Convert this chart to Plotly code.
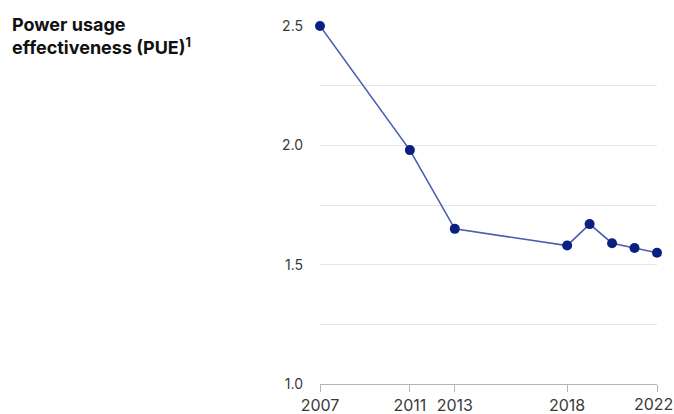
import plotly.graph_objects as go

# Power usage effectiveness by year
years = [2007, 2011, 2013, 2018, 2019, 2020, 2021, 2022]
pue = [2.50, 1.98, 1.65, 1.58, 1.67, 1.59, 1.57, 1.55]

x_tick_years = [2007, 2011, 2013, 2018, 2022]
x_tick_text = ["2007", "2011", "2013", "2018", "2022"]
y_tick_vals = [1.0, 1.5, 2.0, 2.5]
y_tick_text = ["1.0", "1.5", "2.0", "2.5"]

W, H = 674, 414
ML, MR, MT, MB = 320, 17, 26, 30
PW = W - ML - MR
PH = H - MT - MB

TITLE_FONT = "Inter, Liberation Sans, Arial, sans-serif"
TICK_FONT = "Inter, DejaVu Sans, sans-serif"
TICK_COLOR = "#3a3a3a"
AXIS_COLOR = "#b5b5b5"
GRID_COLOR = "#e6e6e6"

fig = go.Figure()
fig.add_trace(go.Scatter(
    x=years, y=pue,
    mode="lines+markers",
    line=dict(color="#4a5db0", width=1.6),
    marker=dict(color="#0a1f80", size=10),
    cliponaxis=False,
    hoverinfo="x+y",
))

fig.update_layout(
    width=W, height=H,
    margin=dict(l=ML, r=MR, t=MT, b=MB, pad=0),
    paper_bgcolor="white",
    plot_bgcolor="white",
    showlegend=False,
    font=dict(family=TICK_FONT, color=TICK_COLOR, size=13),
    xaxis=dict(
        range=[x_tick_years[0], x_tick_years[-1]],
        tickvals=x_tick_years,
        # the final year is written separately below, nudged left to stay on the canvas
        ticktext=x_tick_text[:-1] + [""],
        automargin=False,
        showgrid=False,
        zeroline=False,
        showline=True,
        linecolor=AXIS_COLOR,
        linewidth=1,
        ticks="outside",
        ticklen=7,
        tickcolor=AXIS_COLOR,
        tickwidth=1,
        tickfont=dict(family=TICK_FONT, size=16, color=TICK_COLOR),
        fixedrange=True,
    ),
    yaxis=dict(
        range=[1.0, 2.5],
        tickvals=y_tick_vals,
        ticktext=y_tick_text,
        automargin=False,
        showgrid=True,
        gridcolor=GRID_COLOR,
        gridwidth=1,
        zeroline=False,
        showline=False,
        ticks="",
        ticklabelstandoff=16,
        tickfont=dict(family=TICK_FONT, size=14, color=TICK_COLOR),
        minor=dict(dtick=0.25, tick0=1.0, showgrid=True, gridcolor=GRID_COLOR, gridwidth=1),
        fixedrange=True,
    ),
)

# Label for the last year, at its tick position under the axis
fig.add_annotation(
    xref="x", yref="paper",
    x=x_tick_years[-1], y=0,
    xanchor="center", yanchor="top",
    xshift=-4, yshift=-9,
    borderpad=0,
    showarrow=False,
    text=x_tick_text[-1],
    font=dict(family=TICK_FONT, size=16, color=TICK_COLOR),
)

# Chart heading, placed at the top-left of the canvas
fig.add_annotation(
    xref="paper", yref="paper",
    x=(10 - ML) / PW, y=(H - MB - 12) / PH,
    xanchor="left", yanchor="top",
    align="left",
    showarrow=False,
    text="<b>Power usage<br>effectiveness (PUE)<sup>1</sup></b>",
    font=dict(family=TITLE_FONT, size=18, color="#111111"),
)

fig.write_html("out.html")
